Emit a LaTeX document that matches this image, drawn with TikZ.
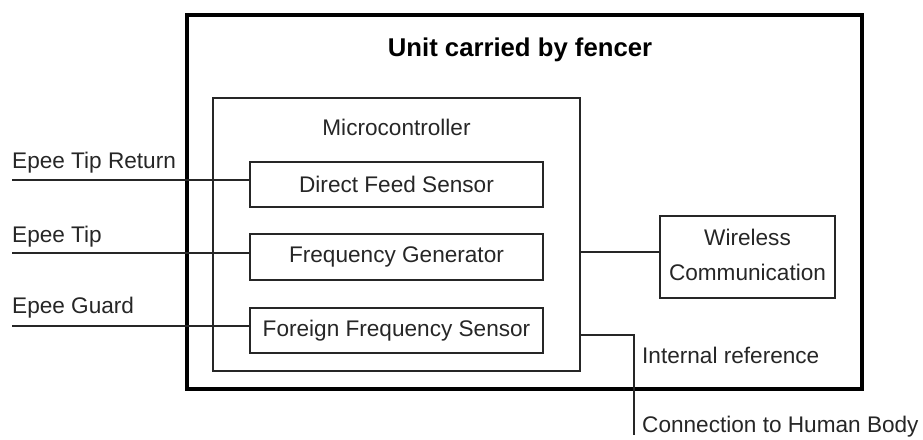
\documentclass[tikz,border=0pt]{standalone}
\usepackage{fontspec}
\setmainfont{Liberation Sans}
\begin{document}
\begin{tikzpicture}[x=1pt,y=-1pt,
  lbl/.style={font=\fontsize{22.6}{26}\selectfont, text=black!85, inner sep=0pt},
  blk/.style={draw=black!85, line width=2pt, inner sep=0pt},
  wire/.style={draw=black!85, line width=2pt}]
\useasboundingbox (0,0) rectangle (923,439);
% outer box
\node[blk, line width=4pt, draw=black, minimum width=675pt, minimum height=374pt] (unit) at (524.5,202) {};
\node[font=\fontsize{25.7}{30}\selectfont\bfseries, inner sep=0pt] (title) at (520,50) {Unit carried by fencer};
% microcontroller
\node[blk, minimum width=367pt, minimum height=273pt] (mcu) at (396.5,234) {};
\node[lbl] (mcut) at (396.5,127) {Microcontroller};
\node[blk, lbl, draw=black!85, line width=2pt, minimum width=293pt, minimum height=45pt] (dfs) at (396.5,184.5) {Direct Feed Sensor};
\node[blk, lbl, draw=black!85, line width=2pt, minimum width=293pt, minimum height=46pt] (fg) at (396.5,257) {Frequency Generator};
\node[blk, lbl, draw=black!85, line width=2pt, minimum width=293pt, minimum height=45pt] (ffs) at (396.5,330.5) {Foreign Frequency Sensor};
% wireless
\node[blk, minimum width=175pt, minimum height=82pt] (wl) at (747.5,257) {};
\node[lbl] (wl1) at (747.5,237) {Wireless};
\node[lbl] (wl2) at (747.5,272) {Communication};
% left inputs
\coordinate (tr) at (12,180);
\coordinate (tp) at (12,253);
\coordinate (gd) at (12,326);
\node[lbl, anchor=west] (trl) at (12,163) {Epee Tip Return};
\node[lbl, anchor=west] (tpl) at (12,237) {Epee Tip};
\node[lbl, anchor=west] (gdl) at (12,308) {Epee Guard};
\draw[wire] (tr) -- (tr -| dfs.west);
\draw[wire] (tp) -- (tp -| fg.west);
\draw[wire] (gd) -- (gd -| ffs.west);
% wireless link
\coordinate (wy) at (600,252);
\draw[wire] (wy -| mcu.east) -- (wy -| wl.west);
% internal reference
\coordinate (ir) at (634,335);
\coordinate (hb) at (634,435);
\draw[wire] (ir -| mcu.east) -- (ir) -- (hb);
\node[lbl, anchor=west] (irl) at (642,355) {Internal reference};
\node[lbl, anchor=west] (hbl) at (642,427) {Connection to Human Body};
\end{tikzpicture}
\end{document}
